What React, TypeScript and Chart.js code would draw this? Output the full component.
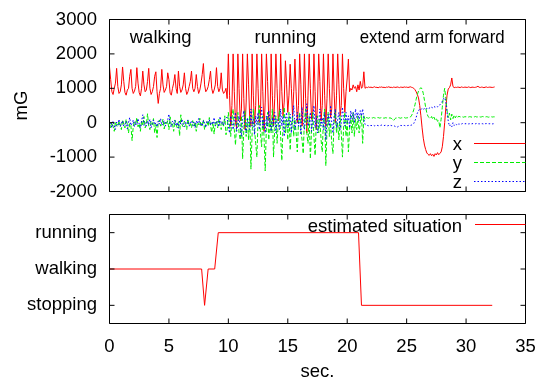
import React, { useEffect, useRef } from 'react';
import { Chart, registerables } from 'chart.js';

Chart.register(...registerables);

const FONT_FAMILY = '"Liberation Sans", Arial, Helvetica, sans-serif';
const FONT_SIZE = 18.5;

// sampling interval of the accelerometer log (sec.)
const SAMPLE_SEC = 0.1;

// x axis acceleration (mG)
const accelX = [
  1620, 1250, 900, 820, 1000, 1150, 1580, 1050, 850, 900,
  1100, 1620, 1200, 880, 800, 950, 1000, 1350, 1550, 1000,
  850, 920, 1050, 1600, 1150, 870, 780, 1000, 1500, 1100,
  900, 950, 1200, 1580, 1000, 820, 900, 1050, 1350, 1480,
  900, 560, 850, 1000, 1550, 1100, 880, 950, 1050, 1450,
  1250, 860, 800, 1000, 1150, 1400, 1000, 850, 1500, 1050,
  880, 950, 1100, 1450, 1000, 820, 900, 1050, 1200, 1500,
  1000, 900, 1000, 1400, 1050, 850, 950, 1150, 1400, 1720,
  1100, 900, 950, 1050, 1250, 1500, 1000, 850, 950, 1100,
  1600, 1050, 900, 1000, 1450, 950, 850, 900, 1000, 700,
  2000, 800, -100, 500, 2000, 900, 0, -150, 2000, 1000,
  50, 400, 2000, 700, -200, 600, 2000, 1100, 100, -100,
  2000, 800, -50, 500, 2000, 1000, 0, 200, 2000, 900,
  -250, 600, 2000, 1200, 100, 0, 2000, 800, -100, 700,
  2000, 1000, 50, 300, 2000, 900, 200, 600, 1800, 1100,
  300, 800, 1700, 1000, 200, 900, 1850, 900, 0, 500,
  2000, 1100, -100, 400, 2000, 700, -300, 800, 2000, 1000,
  100, 300, 2000, 900, -200, 600, 2000, 1200, 50, 500,
  2000, 800, -100, 700, 2000, 1000, 150, 400, 2000, 900,
  0, 800, 2000, 1100, 200, 500, 2000, 1000, 300, 900,
  1300, 1850, 900, 1000, 950, 1100, 1000, 1050, 900, 1100,
  950, 1200, 1000, 1050, 1480, 1000, 1030, 1020, 1040, 1025,
  1035, 1020, 1030, 1045, 1025, 1030, 1015, 1035, 1030, 1040,
  1025, 1030, 1020, 1035, 1030, 1045, 1025, 1030, 1020, 1035,
  1030, 1025, 1040, 1030, 1020, 1035, 1030, 1025, 1040, 1030,
  1035, 1025, 1030, 1045, 1030, 1020, 1000, 960, 900, 820,
  720, 500, 200, -150, -450, -650, -780, -880, -920, -950,
  -900, -960, -920, -980, -900, -940, -870, -930, -890, -850,
  -700, -400, 0, 450, 800, 980, 1020, 1100, 1300, 1050,
  1020, 1030, 1025, 1035, 1030, 1020, 1040, 1030, 1025, 1035,
  1030, 1025, 1040, 1030, 1020, 1035, 1030, 1025, 1030, 1040,
  1060, 1030, 1025, 1035, 1030, 1020, 1030, 1040, 1025, 1030,
  1035, 1030, 1025, 1030, 1040,
];

// y axis acceleration (mG)
const accelY = [
  -50, -150, 20, -100, -250, 30, -80, -120, 50, -60,
  -200, 80, -40, -150, 100, -50, -300, -20, -80, -520,
  -100, 50, -60, 150, -120, -30, -250, 60, -80, 180,
  -150, -50, 260, -100, -200, 40, -60, 120, -300, -50,
  -430, 0, 80, -100, -30, 100, -180, 20, -60, 60,
  -200, 170, -80, -30, -250, 80, -50, -150, 30, -380,
  230, -60, -120, 50, -30, -200, 100, -80, -20, -150,
  60, -100, 20, -250, 0, -60, 130, -120, -40, 80,
  -200, -50, 40, -100, 150, -80, -280, 20, -330, -30,
  60, -150, 100, -60, -200, 30, -100, 200, -350, -200,
  300, -100, -400, 100, 400, -200, -650, 0, 300, -300,
  -500, 200, -1050, -200, 350, -400, 100, -500, 200, -1350,
  -300, 400, -200, -600, -1000, 100, 500, -300, -700, 200,
  -400, -1400, -100, 300, -500, 100, -300, 400, -1000, -200,
  200, -600, 0, 350, -400, -1100, -100, 450, -300, 100,
  -500, 300, -800, -100, 200, -400, 100, -300, -850, 0,
  300, -200, -500, -900, 100, 400, -300, -600, 200, -1050,
  -200, 300, -400, -950, 0, 200, -300, 100, -500, -850,
  100, 400, -1250, -200, 300, -400, 0, -600, -900, 100,
  350, -300, 0, -500, 200, -300, -1000, -100, 300, -400,
  100, -850, -200, 200, -300, 300, -400, 100, -200, 200,
  -300, 0, 250, -600, 200, 100, 150, 140, 130, 150,
  145, 135, 150, 140, 130, 145, 150, 135, 140, 150,
  140, 130, 145, 140, 150, 135, 140, 130, 100, 60,
  110, 140, 135, 150, 140, 130, 145, 140, 150, 135,
  140, 145, 150, 160, 200, 270, 380, 520, 680, 820,
  920, 980, 1020, 980, 850, 650, 450, 280, 180, 150,
  120, 180, 100, 160, 80, 120, 40, 60, -150, 100,
  450, 800, 1000, 700, 350, 150, 280, 80, 250, 120,
  220, 140, 210, 160, 190, 165, 180, 170, 160, 175,
  170, 180, 165, 175, 170, 160, 175, 170, 180, 165,
  170, 175, 165, 170, 180, 170, 165, 175, 170, 160,
  170, 175, 165, 170, 170,
];

// z axis acceleration (mG)
const accelZ = [
  -100, 0, -150, 50, -80, -200, 20, -60, 100, -120,
  -30, 60, -100, -50, 40, -180, 0, 150, -80, -20,
  80, -120, 30, -60, 120, -40, -150, 50, 230, -80,
  0, -100, 60, -50, 100, -150, -20, 80, -60, 0,
  -120, 50, -40, 120, -80, -10, 60, -100, 0, 90,
  250, -50, -130, 40, -30, 70, -90, 10, -160, 50,
  -40, 100, -60, -120, 30, -20, 80, -100, 0, 60,
  -80, 20, -150, 50, -30, 120, -60, 0, -100, 70,
  -20, -140, 40, 0, 90, -80, 30, -50, 150, -100,
  0, 60, -120, 180, -40, 20, -80, 100, 150, 150,
  -100, -300, 200, 0, -200, 100, 300, -250, 0, 200,
  -150, -400, 100, 350, -100, -300, 150, 0, -200, 400,
  -100, 100, -350, 200, -50, 300, -200, 0, 450, -150,
  100, -300, 200, -100, 350, 0, -250, 150, -100, 300,
  -300, 100, 0, -200, 400, -100, 200, -400, 100, 300,
  -150, 0, 250, -300, 100, 500, -200, 0, 300, -100,
  200, -350, 450, 0, -200, 150, 550, -100, 0, 300,
  -250, 100, 500, -150, 200, -300, 0, 400, -100, 150,
  -200, 300, -500, 100, 250, -100, 500, 0, -300, 200,
  400, -150, 100, 300, -200, 0, 450, 100, -100, 300,
  0, 200, -150, 350, 100, 300, 0, 400, 150, 300,
  50, 350, 200, 400, 100, -50, -70, -80, -90, -75,
  -85, -80, -70, -90, -80, -75, -85, -90, -80, -70,
  -80, -85, -75, -80, -90, -80, -70, -85, -80, -90,
  -100, -120, -130, -110, -90, -80, -85, -75, -80, -90,
  -80, -85, -75, -80, -70, -60, -20, 50, 150, 280,
  350, 400, 380, 420, 390, 410, 380, 420, 400, 430,
  410, 450, 430, 470, 450, 480, 460, 500, 520, 560,
  620, 700, 730, 600, 300, 50, -100, -60, -120, 0,
  -80, -30, -60, -20, -50, -30, -40, -25, -35, -30,
  -30, -25, -35, -30, -40, -30, -25, -35, -30, -20,
  -30, -35, -25, -30, -30, -40, -30, -25, -35, -30,
  -30, -25, -35, -30, -30,
];

const seriesNames = ['x', 'y', 'z'];
const seriesColors = ['#ff0000', '#00ee00', '#0000ff'];
const seriesDashes: number[][] = [[], [4, 2], [1.5, 2]];

// estimated situation (0 = stopping, 1 = walking, 2 = running)
const situationTimes = [0, 7.75, 8.0, 8.3, 8.85, 9.15, 20.95, 21.2, 32.2];
const situationLevels = [1, 1, 0, 1, 1, 2, 2, 0, 0];
const situationNames = ['stopping', 'walking', 'running'];
const situationLabel = 'estimated situation';

const timeTicks = [0, 5, 10, 15, 20, 25, 30, 35];
const mgTicks = [-2000, -1000, 0, 1000, 2000, 3000];
const levelTicks = [0, 1, 2];

const phaseNames = ['walking', 'running', 'extend arm forward'];
const phaseCenters = [4.3, 14.8, 27.15];

const yAxisTitle = 'mG';
const xAxisTitle = 'sec.';

const FONT = `${FONT_SIZE}px ${FONT_FAMILY}`;
const TICK_LEN = 5;

function framePlugin(id: string) {
  return {
    id,
    afterDraw(chart: any) {
      const { ctx, chartArea: a, scales } = chart;
      ctx.save();
      ctx.strokeStyle = '#000';
      ctx.lineWidth = 1;
      ctx.setLineDash([]);
      ctx.beginPath();
      ctx.rect(a.left, a.top, a.right - a.left, a.bottom - a.top);
      for (const t of scales.x.ticks) {
        const px = scales.x.getPixelForValue(t.value);
        ctx.moveTo(px, a.bottom);
        ctx.lineTo(px, a.bottom - TICK_LEN);
        ctx.moveTo(px, a.top);
        ctx.lineTo(px, a.top + TICK_LEN);
      }
      for (const t of scales.y.ticks) {
        const py = scales.y.getPixelForValue(t.value);
        ctx.moveTo(a.left, py);
        ctx.lineTo(a.left + TICK_LEN, py);
        ctx.moveTo(a.right, py);
        ctx.lineTo(a.right - TICK_LEN, py);
      }
      ctx.stroke();
      ctx.restore();
    },
  };
}

const topTextPlugin = {
  id: 'topText',
  afterDraw(chart: any) {
    const { ctx, scales, chartArea: a } = chart;
    ctx.save();
    ctx.fillStyle = '#000';
    ctx.font = FONT;
    ctx.textAlign = 'center';
    ctx.textBaseline = 'alphabetic';
    phaseNames.forEach((name, i) => {
      ctx.fillText(name, scales.x.getPixelForValue(phaseCenters[i]), 43.3, 145);
    });
    // legend
    seriesNames.forEach((name, i) => {
      const ly = 143.5 + i * 19;
      ctx.textAlign = 'right';
      ctx.fillStyle = '#000';
      ctx.fillText(name, 462, ly + 6);
      ctx.strokeStyle = seriesColors[i];
      ctx.lineWidth = 1;
      ctx.setLineDash(seriesDashes[i]);
      ctx.beginPath();
      ctx.moveTo(474, ly);
      ctx.lineTo(a.right, ly);
      ctx.stroke();
    });
    ctx.setLineDash([]);
    // y axis title
    ctx.translate(27, (a.top + a.bottom) / 2);
    ctx.rotate(-Math.PI / 2);
    ctx.textAlign = 'center';
    ctx.fillText(yAxisTitle, 0, 0);
    ctx.restore();
  },
};

const bottomTextPlugin = {
  id: 'bottomText',
  afterDraw(chart: any) {
    const { ctx, scales, chartArea: a } = chart;
    ctx.save();
    ctx.fillStyle = '#000';
    ctx.font = FONT;
    ctx.textAlign = 'right';
    ctx.textBaseline = 'alphabetic';
    ctx.fillText(situationLabel, 462, 31.5);
    ctx.strokeStyle = seriesColors[0];
    ctx.lineWidth = 1;
    ctx.beginPath();
    ctx.moveTo(475, 24.5);
    ctx.lineTo(a.right, 24.5);
    ctx.stroke();
    ctx.textAlign = 'center';
    ctx.fillText(xAxisTitle, scales.x.getPixelForValue(17.5), 176.5);
    ctx.restore();
  },
};

const tickFont = { family: FONT_FAMILY, size: FONT_SIZE };

function fixY(s: any) {
  s.width = 109.5;
  s.paddingTop = 0;
  s.paddingBottom = 0;
}
function fixX(height: number) {
  return (s: any) => {
    s.height = height;
    s.paddingLeft = 0;
    s.paddingRight = 0;
  };
}

export default function App() {
  const topRef = useRef<HTMLCanvasElement>(null);
  const botRef = useRef<HTMLCanvasElement>(null);

  useEffect(() => {
    const series = [accelX, accelY, accelZ];
    const topChart = new Chart(topRef.current as HTMLCanvasElement, {
      type: 'line',
      data: {
        datasets: series.map((arr, i) => ({
          label: seriesNames[i],
          data: arr.map((v, k) => ({ x: k * SAMPLE_SEC, y: v })),
          borderColor: seriesColors[i],
          backgroundColor: seriesColors[i],
          borderWidth: 1,
          borderDash: seriesDashes[i],
          pointRadius: 0,
          tension: 0,
          fill: false,
          order: 3 - i,
        })),
      },
      options: {
        responsive: false,
        devicePixelRatio: 1,
        animation: false,
        events: [],
        layout: { padding: { top: 19.5, right: 13.5, bottom: 8.5, left: 0 } },
        plugins: { legend: { display: false }, tooltip: { enabled: false } },
        scales: {
          x: {
            type: 'linear',
            min: 0,
            max: 35,
            grid: { display: false, drawTicks: false },
            border: { display: false },
            ticks: { display: false },
            afterBuildTicks: (s: any) => { s.ticks = timeTicks.map((v) => ({ value: v })); },
            afterFit: fixX(0),
          },
          y: {
            type: 'linear',
            min: -2000,
            max: 3000,
            grid: { display: false, drawTicks: false },
            border: { display: false },
            ticks: { font: tickFont, color: '#000', padding: 12.5, callback: (v: any) => String(v) },
            afterBuildTicks: (s: any) => { s.ticks = mgTicks.map((v) => ({ value: v })); },
            afterFit: fixY,
          },
        },
      },
      plugins: [framePlugin('topFrame'), topTextPlugin],
    } as any);

    const botChart = new Chart(botRef.current as HTMLCanvasElement, {
      type: 'line',
      data: {
        datasets: [
          {
            label: situationLabel,
            data: situationTimes.map((t, k) => ({ x: t, y: situationLevels[k] })),
            borderColor: seriesColors[0],
            backgroundColor: seriesColors[0],
            borderWidth: 1,
            pointRadius: 0,
            tension: 0,
            fill: false,
          },
        ],
      },
      options: {
        responsive: false,
        devicePixelRatio: 1,
        animation: false,
        events: [],
        layout: { padding: { top: 14.5, right: 13.5, bottom: 0, left: 0 } },
        plugins: { legend: { display: false }, tooltip: { enabled: false } },
        scales: {
          x: {
            type: 'linear',
            min: 0,
            max: 35,
            grid: { display: false, drawTicks: false },
            border: { display: false },
            ticks: { font: tickFont, color: '#000', padding: 12, maxRotation: 0, callback: (v: any) => String(v) },
            afterBuildTicks: (s: any) => { s.ticks = timeTicks.map((v) => ({ value: v })); },
            afterFit: fixX(55.5),
          },
          y: {
            type: 'linear',
            min: -0.5,
            max: 2.5,
            grid: { display: false, drawTicks: false },
            border: { display: false },
            ticks: {
              font: tickFont,
              color: '#000',
              padding: 12.5,
              callback: (v: any) => situationNames[v] ?? '',
            },
            afterBuildTicks: (s: any) => { s.ticks = levelTicks.map((v) => ({ value: v })); },
            afterFit: fixY,
          },
        },
      },
      plugins: [framePlugin('botFrame'), bottomTextPlugin],
    } as any);

    return () => {
      topChart.destroy();
      botChart.destroy();
    };
  }, []);

  return (
    <div style={{ position: 'fixed', left: 0, top: 0, width: 539, height: 379, background: '#fff' }}>
      <canvas
        ref={topRef}
        width={539}
        height={200}
        style={{ position: 'absolute', left: 0, top: 0, width: 539, height: 200 }}
      />
      <canvas
        ref={botRef}
        width={539}
        height={179}
        style={{ position: 'absolute', left: 0, top: 200, width: 539, height: 179 }}
      />
    </div>
  );
}
